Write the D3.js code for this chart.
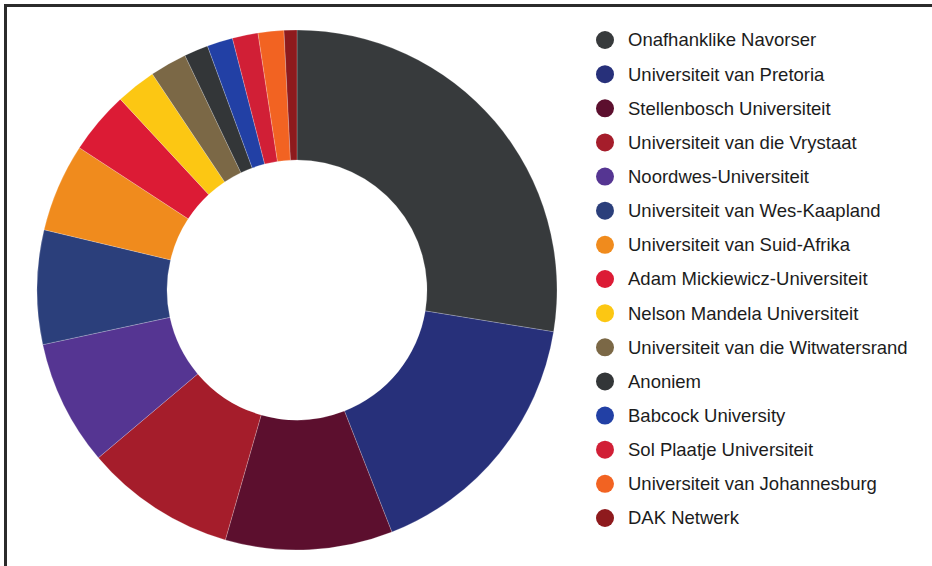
<!DOCTYPE html>
<html>
<head>
<meta charset="utf-8">
<script src="https://cdn.jsdelivr.net/npm/d3@7/dist/d3.min.js"></script>
<style>
  html, body { margin: 0; padding: 0; background: #fff; }
  svg { display: block; }
</style>
</head>
<body>
<svg id="chart" width="932" height="566"></svg>
<script>
const categories = [
  "Onafhanklike Navorser",
  "Universiteit van Pretoria",
  "Stellenbosch Universiteit",
  "Universiteit van die Vrystaat",
  "Noordwes-Universiteit",
  "Universiteit van Wes-Kaapland",
  "Universiteit van Suid-Afrika",
  "Adam Mickiewicz-Universiteit",
  "Nelson Mandela Universiteit",
  "Universiteit van die Witwatersrand",
  "Anoniem",
  "Babcock University",
  "Sol Plaatje Universiteit",
  "Universiteit van Johannesburg",
  "DAK Netwerk"
];
const values = [27.6, 16.5, 10.4, 9.4, 7.8, 7.1, 5.5, 3.9, 2.5, 2.3, 1.5, 1.6, 1.6, 1.6, 0.8];
const colors = [
  "#373a3c", "#27307a", "#5c0f2e", "#a51d2b", "#553592",
  "#2b3f7b", "#f08b1d", "#dc1b35", "#fcc713", "#7b6846",
  "#333638", "#2240a5", "#d11f36", "#f26322", "#8e1a1d"
];

const data = categories.map((c, i) => ({ name: c, value: values[i], color: colors[i] }));

const svg = d3.select("#chart");

// frame
svg.append("path")
  .attr("d", "M5.5,566 L5.5,5.5 L932,5.5")
  .attr("fill", "none")
  .attr("stroke", "#2b2b2b")
  .attr("stroke-width", 3);

const cx = 297, cy = 290, outerR = 260, innerR = 130;

const pie = d3.pie().sort(null).value(d => d.value);
const arc = d3.arc().innerRadius(innerR).outerRadius(outerR);

const g = svg.append("g").attr("transform", `translate(${cx},${cy})`);
g.selectAll("path.slice")
  .data(pie(data))
  .join("path")
  .attr("class", "slice")
  .attr("d", arc)
  .attr("fill", d => d.data.color)
  .attr("stroke", "#ffffff")
  .attr("stroke-opacity", 0.35)
  .attr("stroke-width", 0.6);

// legend
const legendY = d3.scalePoint().domain(categories).range([40, 518]);
const lg = svg.append("g");
const items = lg.selectAll("g.item")
  .data(data)
  .join("g")
  .attr("class", "item")
  .attr("transform", d => `translate(605,${legendY(d.name)})`);
items.append("circle")
  .attr("r", 9)
  .attr("fill", d => d.color);
items.append("text")
  .attr("x", 23)
  .attr("y", 0)
  .attr("dy", "0.35em")
  .attr("font-family", "'Liberation Sans', Arial, Helvetica, sans-serif")
  .attr("font-size", 18.5)
  .attr("fill", "#1c1c1c")
  .text(d => d.name);
</script>
</body>
</html>
